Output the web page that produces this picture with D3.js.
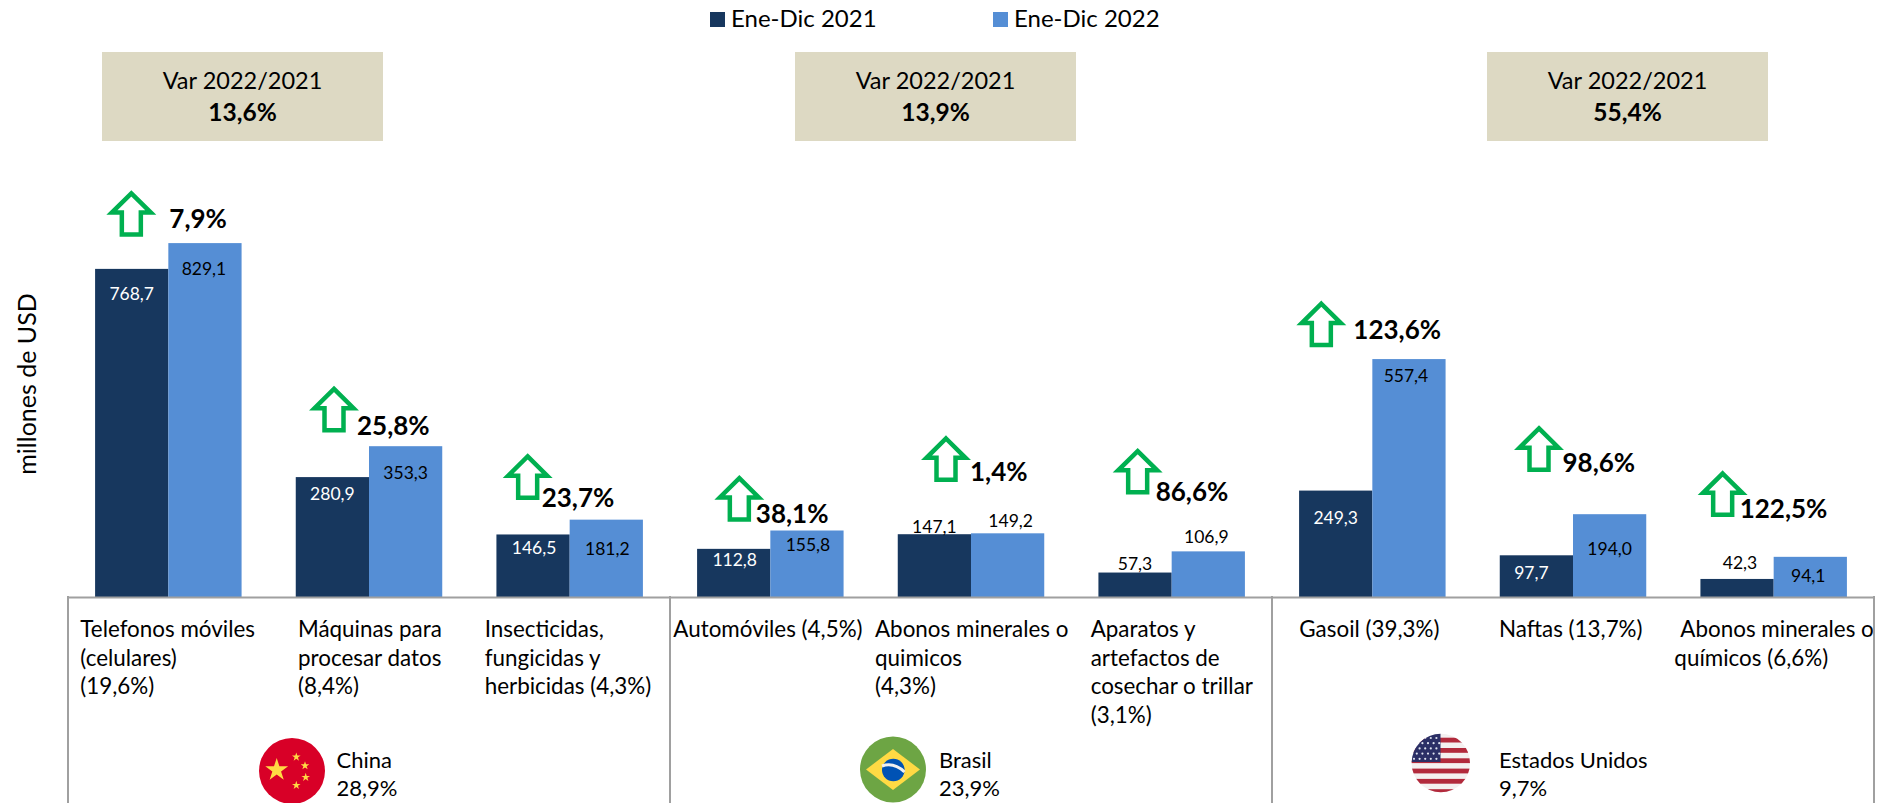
<!DOCTYPE html>
<html>
<head>
<meta charset="utf-8">
<style>
html, body { margin: 0; padding: 0; background: #fff; overflow: hidden; }
text { font-family: Lato, "Open Sans", sans-serif; fill: #000; }
</style>
<script src="https://cdn.jsdelivr.net/npm/d3@7"></script>
</head>
<body>
<div id="contents"></div>
<script>
// datos
var countries = ["China", "Brasil", "Estados Unidos"];
var countryShare = ["28,9%", "23,9%", "9,7%"];
var countryVar = ["13,6%", "13,9%", "55,4%"];
var seriesNames = ["Ene-Dic 2021", "Ene-Dic 2022"];
var categories = [
	["Telefonos móviles\n(celulares)\n(19,6%)", "Máquinas para\nprocesar datos\n(8,4%)", "Insecticidas,\nfungicidas y\nherbicidas (4,3%)"],
	["Automóviles (4,5%)", "Abonos minerales o\nquimicos\n(4,3%)", "Aparatos y\nartefactos de\ncosechar o trillar\n(3,1%)"],
	["Gasoil (39,3%)", "Naftas (13,7%)", " Abonos minerales o\nquímicos (6,6%)"]
];
var values2021 = [[768.7, 280.9, 146.5], [112.8, 147.1, 57.3], [249.3, 97.7, 42.3]];
var values2022 = [[829.1, 353.3, 181.2], [155.8, 149.2, 106.9], [557.4, 194.0, 94.1]];
var variation = [["7,9%", "25,8%", "23,7%"], ["38,1%", "1,4%", "86,6%"], ["123,6%", "98,6%", "122,5%"]];

// ajustes de posicion (separados de los datos)
var W = 1883, H = 803, baseY = 597;
var panelX = [68, 670, 1272, 1874];
var colors = ["#17375E", "#558ED5"];
var labelColor = [["#fff", "#fff", "#fff"], ["#fff", "#000", "#000"], ["#fff", "#fff", "#000"]];
var dy2021 = [[31, 23, 19.5], [17, -1.5, -2.5], [33.4, 23.4, -10.3]];
var dy2022 = [[32, 32.5, 35], [20.5, -6, -8.7], [22.6, 40.8, 25.2]];
var dx2021 = [[0, 0, 1], [1, 0, 0], [0, -5, 3]];
var dx2022 = [[-1, 0, 1], [1, 3, -2], [-3, 0, -2]];
var labelDx = [[-88, -71, -85], [-97, -96, -81], [-73, -74, -99.3]];
var arrowDx = [[-37, -35, -42], [-31, -25, -34], [-51, -34, -51]];
var arrowTop = [[-53, -60.5, -66.5], [-55.5, -98, -103.5], [-58.5, -89, -86.5]];
var pctDx = [[1, -12, -28], [-14.5, -1, -16], [-19, -10.5, -34]];
var pctBase = [[-15.4, -11, -12.7], [-7.5, -52, -50.7], [-20, -42, -38.8]];
var boxX = [102, 795, 1487];

var svg = d3.select("#contents")
	.append("svg")
	.attr("width", W)
	.attr("height", H);

var y = d3.scaleLinear().domain([0, 829.1]).range([baseY, baseY - 353.9]);

// leyenda
var legendX = [710, 993];
seriesNames.forEach(function(name, i) {
	svg.append("rect").attr("x", legendX[i]).attr("y", 12)
		.attr("width", 15).attr("height", 15).attr("fill", colors[i]);
	svg.append("text").attr("x", legendX[i] + 21).attr("y", 27)
		.attr("font-size", 24).text(name);
});

// titulo eje
svg.append("text")
	.attr("transform", "translate(36,384) rotate(-90)")
	.attr("text-anchor", "middle")
	.attr("font-size", 25)
	.text("millones de USD");

function arrowPath(cx, top) {
	var p = [[0, 3.2], [19.5, 22.5], [9.5, 22.5], [9.5, 44.5], [-9.5, 44.5], [-9.5, 22.5], [-19.5, 22.5]];
	return "M" + p.map(function(d) { return (cx + d[0]) + "," + (top + d[1]); }).join("L") + "Z";
}

countries.forEach(function(country, p) {
	var g = svg.append("g");
	var x = d3.scaleBand()
		.domain(categories[p])
		.range([panelX[p], panelX[p + 1]])
		.paddingInner(0.27)
		.paddingOuter(0.135);
	var sub = d3.scaleBand().domain([0, 1]).range([0, x.bandwidth()]);

	// caja variacion
	g.append("rect").attr("x", boxX[p]).attr("y", 52)
		.attr("width", 281).attr("height", 89).attr("fill", "#DDD9C3");
	g.append("text").attr("x", boxX[p] + 140.5).attr("y", 88.5)
		.attr("text-anchor", "middle").attr("font-size", 23.5).text("Var 2022/2021");
	g.append("text").attr("x", boxX[p] + 140.5).attr("y", 121)
		.attr("text-anchor", "middle").attr("font-size", 24.5).attr("font-weight", 700).text(countryVar[p]);

	// barras
	[values2021[p], values2022[p]].forEach(function(vals, s) {
		g.selectAll(".bar" + s)
			.data(vals)
			.enter()
			.append("rect")
			.attr("class", "bar" + s)
			.attr("x", function(d, i) { return x(categories[p][i]) + sub(s); })
			.attr("y", function(d) { return y(d); })
			.attr("width", sub.bandwidth())
			.attr("height", function(d) { return y(0) - y(d); })
			.attr("fill", colors[s]);
		g.selectAll(".val" + s)
			.data(vals)
			.enter()
			.append("text")
			.attr("class", "val" + s)
			.attr("text-anchor", "middle")
			.attr("font-size", 17.5)
			.attr("x", function(d, i) {
				return x(categories[p][i]) + sub(s) + sub.bandwidth() / 2 + (s ? dx2022 : dx2021)[p][i];
			})
			.attr("y", function(d, i) { return y(d) + (s ? dy2022 : dy2021)[p][i]; })
			.style("fill", function(d, i) { return s ? "#000" : labelColor[p][i]; })
			.text(function(d) { return d.toFixed(1).replace(".", ","); });
	});

	// flechas y porcentaje
	categories[p].forEach(function(c, i) {
		var cx = x(c) + x.bandwidth() / 2;
		var topV = Math.max(values2021[p][i], values2022[p][i]);
		g.append("path")
			.attr("d", arrowPath(cx + arrowDx[p][i], y(topV) + arrowTop[p][i]))
			.attr("fill", "#fff")
			.attr("stroke", "#00B050")
			.attr("stroke-width", 4.5);
		g.append("text")
			.attr("x", cx + pctDx[p][i])
			.attr("y", y(topV) + pctBase[p][i])
			.attr("font-size", 26)
			.attr("font-weight", 700)
			.text(variation[p][i]);
	});

	// eje
	var axis = g.append("g")
		.attr("transform", "translate(0," + baseY + ")")
		.call(d3.axisBottom(x).tickSize(0).tickSizeOuter(0));
	axis.select(".domain").attr("stroke", "#A0A0A0").attr("stroke-width", 2);
	axis.selectAll(".tick text").each(function(d, i) {
		var t = d3.select(this);
		t.text(null).attr("text-anchor", "start").attr("y", 0).attr("dy", null)
			.attr("font-size", 22.4).attr("font-family", null);
		d.split("\n").forEach(function(line, k) {
			t.append("tspan")
				.attr("x", labelDx[p][i] + (line.charAt(0) == " " ? 6 : 0))
				.attr("y", 40 + k * 28.5)
				.text(line.trim());
		});
	});
});

// separadores de paneles
svg.selectAll(".sep")
	.data(panelX)
	.enter()
	.append("line")
	.attr("class", "sep")
	.attr("x1", function(d) { return d; })
	.attr("x2", function(d) { return d; })
	.attr("y1", baseY - 1)
	.attr("y2", H)
	.attr("stroke", "#A0A0A0")
	.attr("stroke-width", 2);

// paises
var countryX = [336.6, 939, 1499];
countries.forEach(function(c, i) {
	svg.append("text").attr("x", countryX[i]).attr("y", 767.7).attr("font-size", 22).text(c);
	svg.append("text").attr("x", countryX[i]).attr("y", 795.7).attr("font-size", 22).text(countryShare[i]);
});

// banderas
function flagGroup(id, cx, cy, r) {
	svg.append("clipPath").attr("id", id).append("circle")
		.attr("cx", cx).attr("cy", cy).attr("r", r);
	return svg.append("g").attr("clip-path", "url(#" + id + ")");
}
var star = d3.symbol().type(d3.symbolStar);

var cn = flagGroup("clipCn", 292, 771, 33);
cn.append("rect").attr("x", 259).attr("y", 738).attr("width", 66).attr("height", 66).attr("fill", "#D80027");
[[276.7, 770, 162], [296.3, 757, 23], [305, 765.7, 23], [305.7, 777.3, 23], [296.3, 785.3, 23]].forEach(function(s) {
	cn.append("path").attr("d", star.size(s[2])()).attr("fill", "#FFDA44")
		.attr("transform", "translate(" + s[0] + "," + s[1] + ")");
});

var br = flagGroup("clipBr", 893, 769.5, 33);
br.append("rect").attr("x", 860).attr("y", 736).attr("width", 66).attr("height", 67).attr("fill", "#6DA544");
br.append("path").attr("d", "M893,749L920,769.5L893,790L866,769.5Z").attr("fill", "#FFDA44");
br.append("circle").attr("cx", 893.3).attr("cy", 770).attr("r", 11.3).attr("fill", "#0052B4");
br.append("path").attr("d", "M882,766Q894,762 904.5,772").attr("fill", "none").attr("stroke", "#f0f0f0").attr("stroke-width", 3);

var us = flagGroup("clipUs", 1440.8, 763, 29.2);
us.append("rect").attr("x", 1411).attr("y", 733).attr("width", 60).attr("height", 60).attr("fill", "#f4f0f0");
d3.range(6).forEach(function(i) {
	us.append("rect").attr("x", 1411).attr("y", 737.7 + i * 10.3)
		.attr("width", 60).attr("height", 4.8).attr("fill", "#B22A3C");
});
us.append("rect").attr("x", 1411).attr("y", 733).attr("width", 29.5).attr("height", 29).attr("fill", "#2B2F66");
d3.range(5).forEach(function(r) {
	d3.range(5).forEach(function(c) {
		us.append("circle").attr("cx", 1414 + c * 5.6 + (r % 2) * 2.8).attr("cy", 738 + r * 5.2).attr("r", 1.1).attr("fill", "#dfe3f0");
	});
});
</script>
</body>
</html>
